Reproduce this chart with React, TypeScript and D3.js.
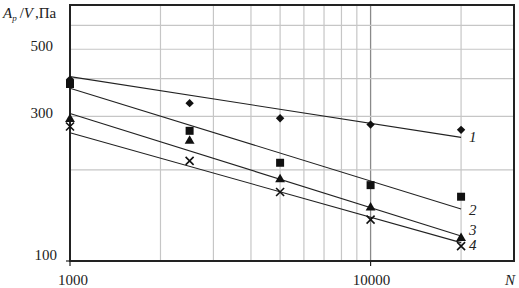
import React from "react";
import * as d3 from "d3";

const xTickLabels = [1000, 10000];
const yTickLabels = [100, 300, 500];
const xGrid = [2000, 3000, 4000, 5000, 6000, 7000, 8000, 9000, 10000, 20000];
const yGrid = [200, 300, 400, 500, 600];

const pointsN = [1000, 2500, 5000, 10000, 20000];
const series1 = [397, 332, 296, 282, 271];
const series2 = [384, 269, 211, 178, 163];
const series3 = [294, 249, 186, 150, 119];
const series4 = [278, 214, 169, 137, 112];

const fitN = [1000, 20000];
const fit1 = [406, 256];
const fit2 = [372, 148.5];
const fit3 = [307, 121];
const fit4 = [265, 115];

const seriesNames = ["1", "2", "3", "4"];

const W = 519;
const H = 288;
const M = { left: 70, right: 514, top: 5, bottom: 261 };

export default function App() {
  const x = d3.scaleLog().domain([1000, 30000]).range([M.left, M.right]);
  const y = d3.scaleLog().domain([100, 700]).range([M.bottom, M.top]);
  const line = d3
    .line<[number, number]>()
    .x((d) => x(d[0]))
    .y((d) => y(d[1]));

  const fits = [fit1, fit2, fit3, fit4];
  const pts = [series1, series2, series3, series4];
  const font = "'Liberation Serif', 'Times New Roman', serif";
  const labelDy = [1, 3, -4, 4];

  const marker = (k: number, cx: number, cy: number, key: string) => {
    if (k === 0) {
      const r = 4.2;
      return (
        <path key={key} d={`M${cx},${cy - r}L${cx + r},${cy}L${cx},${cy + r}L${cx - r},${cy}Z`} fill="#111" />
      );
    }
    if (k === 1) {
      const s = d3.symbol(d3.symbolSquare, 64)();
      return <path key={key} d={s!} transform={`translate(${cx},${cy})`} fill="#111" />;
    }
    if (k === 2) {
      const s = d3.symbol(d3.symbolTriangle, 42)();
      return <path key={key} d={s!} transform={`translate(${cx},${cy})`} fill="#111" />;
    }
    const r = 4;
    return (
      <path
        key={key}
        d={`M${cx - r},${cy - r}L${cx + r},${cy + r}M${cx - r},${cy + r}L${cx + r},${cy - r}`}
        stroke="#111"
        strokeWidth={1.6}
        fill="none"
      />
    );
  };

  const ts = { fontFamily: font };

  return (
    <svg width={W} height={H} style={{ position: "absolute", left: 0, top: 0, background: "#fff" }}>
      {xGrid.map((v) => (
        <line
          key={"xg" + v}
          x1={x(v)}
          x2={x(v)}
          y1={M.top}
          y2={M.bottom}
          stroke={v === 10000 ? "#8a8a8a" : "#c6c6c6"}
          strokeWidth={v === 10000 ? 1.3 : 1.2}
        />
      ))}
      {yGrid.map((v) => (
        <line key={"yg" + v} x1={M.left} x2={M.right} y1={y(v)} y2={y(v)} stroke="#c6c6c6" strokeWidth={1.2} />
      ))}
      <rect
        x={M.left}
        y={M.top}
        width={M.right - M.left}
        height={M.bottom - M.top}
        fill="none"
        stroke="#222"
        strokeWidth={2}
      />
      {xTickLabels.map((v) => (
        <line key={"xt" + v} x1={x(v)} x2={x(v)} y1={M.bottom} y2={M.bottom + 5} stroke="#222" strokeWidth={1.2} />
      ))}
      <line x1={M.left - 4} x2={M.left} y1={M.bottom} y2={M.bottom} stroke="#222" strokeWidth={1.2} />
      {fits.map((f, i) => (
        <path
          key={"fit" + i}
          d={line(fitN.map((n, j) => [n, f[j]] as [number, number]))!}
          stroke="#222"
          strokeWidth={1.1}
          fill="none"
        />
      ))}
      {pts.map((s, k) => s.map((v, j) => marker(k, x(pointsN[j]), y(v), `m${k}-${j}`)))}
      {fits.map((f, i) => (
        <text
          key={"sl" + i}
          x={x(fitN[1]) + 8}
          y={y(f[1]) + labelDy[i]}
          style={ts}
          fontStyle="italic"
          fontSize={15}
          fill="#222"
          dominantBaseline="middle"
        >
          {seriesNames[i]}
        </text>
      ))}
      {yTickLabels.map((v) => (
        <text
          key={"yl" + v}
          x={v === 100 ? 57 : 53}
          y={y(v) - (v === 100 ? 4 : 2)}
          textAnchor="end"
          dominantBaseline="middle"
          style={ts}
          fontSize={15}
          fill="#222"
        >
          {v}
        </text>
      ))}
      {xTickLabels.map((v) => (
        <text
          key={"xl" + v}
          x={x(v) + (v === 1000 ? 3 : 1)}
          y={282}
          textAnchor="middle"
          dominantBaseline="middle"
          style={ts}
          fontSize={15}
          fill="#222"
        >
          {v}
        </text>
      ))}
      <text x={510} y={282} textAnchor="middle" dominantBaseline="middle" style={ts} fontStyle="italic" fontSize={15} fill="#222">
        N
      </text>
      <text x={3} y={18} style={ts} fontSize={15} fill="#222">
        <tspan fontStyle="italic">A</tspan>
        <tspan fontStyle="italic" fontSize={9} dy={3}>p</tspan>
        <tspan dy={-3} dx={3}>/</tspan>
        <tspan fontStyle="italic">V</tspan>
        <tspan dx={2}>,Па</tspan>
      </text>
    </svg>
  );
}
